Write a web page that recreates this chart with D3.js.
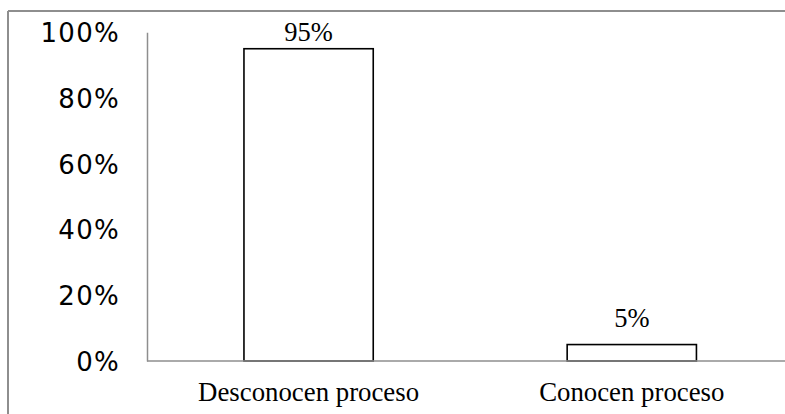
<!DOCTYPE html>
<html>
<head>
<meta charset="utf-8">
<script src="https://cdn.jsdelivr.net/npm/d3@7"></script>
<style>
  html, body { margin: 0; padding: 0; background: #fff; }
  svg { display: block; }
</style>
</head>
<body>
<svg id="chart" width="785" height="414"></svg>
<script>
const categories = ["Desconocen proceso", "Conocen proceso"];
const values = [95, 5];
const valueLabels = ["95%", "5%"];
const yTicks = [0, 20, 40, 60, 80, 100];
const yTickLabels = ["0%", "20%", "40%", "60%", "80%", "100%"];

const svg = d3.select("#chart");
const W = 785, H = 414;

// outer frame (top and left edges visible)
svg.append("line").attr("x1", 8).attr("x2", W).attr("y1", 11).attr("y2", 11)
  .attr("stroke", "#8e8e8e").attr("stroke-width", 2);
svg.append("line").attr("x1", 8).attr("x2", 8).attr("y1", 11).attr("y2", H)
  .attr("stroke", "#8e8e8e").attr("stroke-width", 2);

const x0 = 147, x1 = 793.4;
const yBase = 361, yTop = 32.3;

const x = d3.scaleBand().domain(categories).range([x0, x1])
  .paddingInner(0.6).paddingOuter(0.3);
const y = d3.scaleLinear().domain([0, 100]).range([yBase, yTop]);

// y axis labels
const yAxis = d3.axisLeft(y).tickValues(yTicks)
  .tickFormat((d, i) => yTickLabels[i]).tickSize(0).tickPadding(27);
const gy = svg.append("g").attr("transform", `translate(${x0},0)`).call(yAxis);
gy.select(".domain").attr("stroke", "#8e8e8e").attr("stroke-width", 1.5);
gy.selectAll("text")
  .attr("font-family", "'DejaVu Sans', Verdana, sans-serif")
  .attr("font-size", 26).attr("fill", "#000")
  .attr("letter-spacing", "1.3px")
  .attr("dy", "0.36em");

// bars
svg.selectAll("rect.bar").data(values).join("rect")
  .attr("class", "bar")
  .attr("x", (d, i) => x(categories[i]))
  .attr("width", x.bandwidth())
  .attr("y", d => y(d))
  .attr("height", d => yBase - y(d))
  .attr("fill", "#fff")
  .attr("stroke", "#000")
  .attr("stroke-width", 1.6);

// x axis line
svg.append("line").attr("x1", x0).attr("x2", W).attr("y1", yBase).attr("y2", yBase)
  .attr("stroke", "#8e8e8e").attr("stroke-width", 1.5);

// value labels
svg.selectAll("text.val").data(values).join("text")
  .attr("class", "val")
  .attr("x", (d, i) => x(categories[i]) + x.bandwidth() / 2)
  .attr("y", d => Math.max(y(d) - 17.6, yTop + 8.4))
  .attr("text-anchor", "middle")
  .attr("font-family", "'Liberation Serif', 'Times New Roman', serif")
  .attr("font-size", 26.5)
  .text((d, i) => valueLabels[i]);

// category labels
svg.selectAll("text.cat").data(categories).join("text")
  .attr("class", "cat")
  .attr("x", d => x(d) + x.bandwidth() / 2)
  .attr("y", 401)
  .attr("text-anchor", "middle")
  .attr("font-family", "'Liberation Serif', 'Times New Roman', serif")
  .attr("font-size", 26.8)
  .text(d => d);
</script>
</body>
</html>
